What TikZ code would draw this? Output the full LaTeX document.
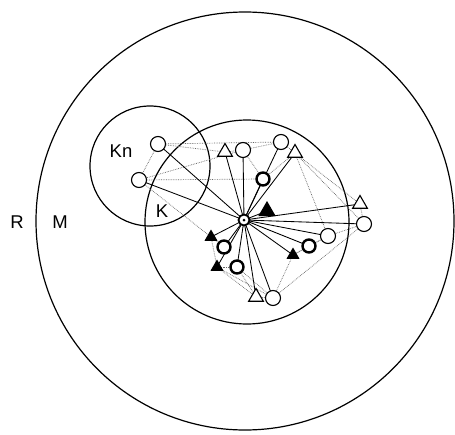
\documentclass[tikz,border=0pt]{standalone}
\usepackage{fontspec}
\setmainfont{Liberation Sans}
\usetikzlibrary{shapes.geometric}
\begin{document}
\begin{tikzpicture}[x=1pt,y=-1pt,
  ring/.style={line width=1.2pt},
  lbl/.style={font=\fontsize{18.5}{22}\selectfont, inner sep=0pt},
  ocirc/.style={circle, draw, line width=1.1pt, fill=white, minimum size=15pt, inner sep=0pt},
  bcirc/.style={circle, draw, line width=2.4pt, fill=white, minimum size=13pt, inner sep=0pt},
  otri/.style={regular polygon, regular polygon sides=3, draw, line width=1.1pt, fill=white, minimum size=17pt, inner sep=0pt},
  ftri/.style={regular polygon, regular polygon sides=3, draw, line width=1pt, fill=black, minimum size=13pt, inner sep=0pt},
  hubst/.style={circle, draw, line width=1.8pt, fill=white, minimum size=11pt, inner sep=0pt},
  ray/.style={line width=0.85pt},
  web/.style={black!60, line width=0.7pt, densely dotted}]
\useasboundingbox (0,0) rectangle (455,434);
\fill[white] (0,0) rectangle (455,434);
% rings
\draw[ring] (245,221) circle (209pt);
\draw[ring] (150,166) circle (60pt);
\draw[ring] (247,222) circle (102pt);
% labels
\node[lbl] (R) at (17,222) {R};
\node[lbl] (M) at (60,222) {M};
\node[lbl] (Kn) at (121,151) {Kn};
\node[lbl] (K) at (162,211) {K};
% node positions
\coordinate (pc1) at (158,144);
\coordinate (pc2) at (139,180);
\coordinate (pc3) at (243,150);
\coordinate (pc4) at (281,142);
\coordinate (pc5) at (364,224);
\coordinate (pc6) at (328,236);
\coordinate (pc7) at (273,298);
\coordinate (pb1) at (263,179);
\coordinate (pb2) at (309,246);
\coordinate (pb3) at (224,247);
\coordinate (pb4) at (237,267);
\coordinate (pt1) at (225,152);
\coordinate (pt2) at (295,153);
\coordinate (pt3) at (360,204);
\coordinate (pt4) at (256,297);
\coordinate (pf1) at (267,211);
\coordinate (pf2) at (211,237);
\coordinate (pf3) at (293,255);
\coordinate (pf4) at (217,267);
\coordinate (phub) at (244,220);
% web (dotted)
\foreach \a/\b in {pc1/pc4, pc1/pc2, pc2/pb1, pc2/pc3, pc1/pt1, pt1/pc3, pc3/pc4, pc4/pt2, pt2/pt3, pt2/pc6, pt2/pc5, pt3/pc5, pc5/pc6, pc5/pc7, pc6/pf3, pb2/pf3, pc7/pt4, pt4/pf4, pt4/pb4, pf4/pf2, pf2/pc2, pb3/pf2, pb4/pf4, pc7/pb4, pb1/pt2, pc3/pb1, pf3/pc7, pb2/pc6, pf4/pc7}
  \draw[web] (\a) -- (\b);
% rays from hub
\foreach \b in {pc1,pc2,pc3,pc4,pc5,pc6,pc7,pb1,pb2,pb3,pb4,pt1,pt2,pt3,pt4,pf1,pf2,pf3,pf4}
  \draw[ray] (phub) -- (\b);
% nodes
\node[ocirc] (c1) at (pc1) {};
\node[ocirc] (c2) at (pc2) {};
\node[ocirc] (c3) at (pc3) {};
\node[ocirc] (c4) at (pc4) {};
\node[ocirc] (c5) at (pc5) {};
\node[ocirc] (c6) at (pc6) {};
\node[ocirc] (c7) at (pc7) {};
\node[bcirc] (b1) at (pb1) {};
\node[bcirc] (b2) at (pb2) {};
\node[bcirc] (b3) at (pb3) {};
\node[bcirc] (b4) at (pb4) {};
\node[otri] (t1) at (pt1) {};
\node[otri] (t2) at (pt2) {};
\node[otri] (t3) at (pt3) {};
\node[otri] (t4) at (pt4) {};
\node[ftri, minimum size=18pt] (f1) at (pf1) {};
\node[ftri] (f2) at (pf2) {};
\node[ftri] (f3) at (pf3) {};
\node[ftri] (f4) at (pf4) {};
\node[hubst] (hub) at (phub) {};
\fill (hub.center) circle (1.5pt);
\end{tikzpicture}
\end{document}
